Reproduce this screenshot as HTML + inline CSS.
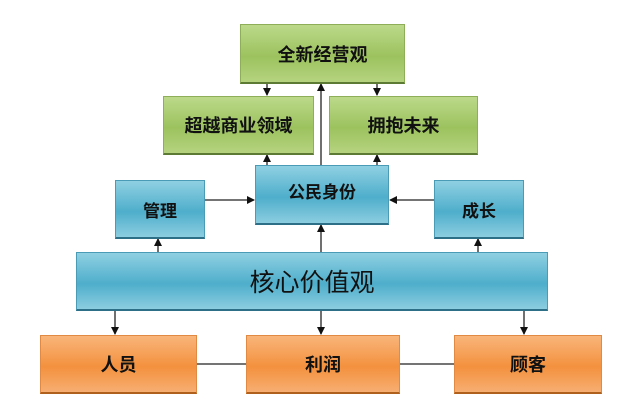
<!DOCTYPE html>
<html><head><meta charset="utf-8"><style>
body{margin:0;width:640px;height:418px;background:#fff;position:relative;overflow:hidden;font-family:"Liberation Sans","Noto Sans CJK SC",sans-serif}
.b{position:absolute;display:flex;align-items:center;justify-content:center;font-weight:bold;color:#111;box-sizing:border-box}
.g{background:linear-gradient(#bcd98a,#9cc25e 55%,#b5d37f);border:1px solid #8fae5a;border-bottom:2px solid #5d7a34;font-size:18px}
.c{background:linear-gradient(#8fd0e2,#4eaecb 55%,#8ccde0);border:1px solid #4a9bb5;border-bottom:2px solid #2d6f86;font-size:17px}
.o{background:linear-gradient(#f9b57a,#f3913e 55%,#f7ae72);border:1px solid #e08a44;border-bottom:2px solid #b0601d;font-size:18px}
</style></head><body>
<svg width="640" height="418" style="position:absolute;left:0;top:0">
<defs><marker id="a" markerWidth="8" markerHeight="8" refX="7" refY="4" orient="auto" markerUnits="userSpaceOnUse"><path d="M0,0L8,4L0,8z" fill="#111"/></marker></defs>
<g stroke="#222" stroke-width="1.3" fill="none">
<line x1="267" y1="83" x2="267" y2="95" marker-end="url(#a)"/>
<line x1="377" y1="83" x2="377" y2="95" marker-end="url(#a)"/>
<line x1="267" y1="165" x2="267" y2="155" marker-end="url(#a)"/>
<line x1="377" y1="165" x2="377" y2="155" marker-end="url(#a)"/>
<line x1="321" y1="165" x2="321" y2="84" marker-end="url(#a)"/>
<line x1="321" y1="252" x2="321" y2="225" marker-end="url(#a)"/>
<line x1="158" y1="252" x2="158" y2="239" marker-end="url(#a)"/>
<line x1="478" y1="252" x2="478" y2="239" marker-end="url(#a)"/>
<line x1="205" y1="200" x2="254" y2="200" marker-end="url(#a)"/>
<line x1="434" y1="200" x2="390" y2="200" marker-end="url(#a)"/>
<line x1="115" y1="311" x2="115" y2="334" marker-end="url(#a)"/>
<line x1="321" y1="311" x2="321" y2="334" marker-end="url(#a)"/>
<line x1="524" y1="311" x2="524" y2="334" marker-end="url(#a)"/>
<line x1="197" y1="364" x2="246" y2="364"/>
<line x1="400" y1="364" x2="454" y2="364"/>
</g></svg>
<div class="b g" style="left:240px;top:24px;width:165px;height:60px">全新经营观</div>
<div class="b g" style="left:163px;top:96px;width:151px;height:59px">超越商业领域</div>
<div class="b g" style="left:329px;top:96px;width:149px;height:59px">拥抱未来</div>
<div class="b c" style="left:255px;top:165px;width:134px;height:60px;align-items:flex-start;padding-top:12px">公民身份</div>
<div class="b c" style="left:115px;top:180px;width:90px;height:59px">管理</div>
<div class="b c" style="left:434px;top:180px;width:90px;height:59px">成长</div>
<div class="b c" style="left:76px;top:252px;width:472px;height:59px;font-size:25px;font-weight:normal">核心价值观</div>
<div class="b o" style="left:40px;top:335px;width:157px;height:59px">人员</div>
<div class="b o" style="left:246px;top:335px;width:154px;height:59px">利润</div>
<div class="b o" style="left:454px;top:335px;width:148px;height:59px">顾客</div>
</body></html>
